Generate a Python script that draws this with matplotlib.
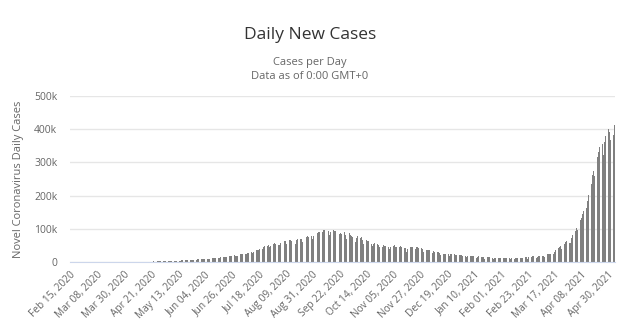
import matplotlib

matplotlib.use("Agg")
import matplotlib.pyplot as plt
import pandas as pd
from matplotlib.ticker import FuncFormatter

plt.rcParams["font.family"] = ["Open Sans", "DejaVu Sans"]

START_DATE = "2020-02-15"

# daily new cases, in thousands, one list per month
feb_2020 = [0.0] * 15
mar_2020 = [0.0, 0.0, 0.0, 0.02, 0.0, 0.0, 0.0, 0.01, 0.01, 0.02, 0.02, 0.01, 0.02, 0.02, 0.02,
            0.02, 0.03, 0.03, 0.03, 0.05, 0.08, 0.07, 0.1, 0.07, 0.09, 0.09, 0.16, 0.13, 0.12, 0.19, 0.3]
apr_2020 = [0.4, 0.5, 0.6, 0.6, 0.6, 0.6, 0.5, 0.6, 0.6, 0.8, 0.9, 0.9, 0.8, 1.0, 1.2,
            1.0, 1.0, 1.4, 1.4, 1.3, 1.5, 1.3, 1.7, 1.4, 1.8, 1.6, 1.6, 1.9, 1.7, 1.8]
may_2020 = [2.4, 2.5, 2.6, 3.0, 3.9, 2.7, 3.4, 3.3, 3.3, 4.2, 3.6, 3.5, 3.7, 3.9, 4.0,
            4.9, 5.1, 4.6, 6.1, 5.6, 6.1, 6.7, 6.8, 6.6, 6.5, 6.6, 7.2, 7.5, 8.0, 7.8, 8.4]
jun_2020 = [8.2, 8.9, 9.6, 9.8, 9.8, 10.4, 9.9, 9.9, 10.0, 11.2, 11.1, 11.4, 12.0, 11.5, 10.7,
            13.1, 13.8, 13.6, 14.7, 15.9, 15.4, 14.8, 16.1, 16.9, 17.3, 18.8, 19.1, 19.9, 18.3, 18.6]
jul_2020 = [19.0, 19.5, 22.7, 24.0, 24.2, 22.8, 22.7, 25.6, 26.5, 27.8, 27.8, 29.1, 28.2, 29.4, 32.6,
            35.5, 34.8, 37.4, 40.2, 37.1, 38.9, 45.6, 49.3, 49.0, 48.9, 49.9, 46.5, 48.5, 51.6, 55.1, 57.7]
aug_2020 = [55.1, 53.6, 52.0, 52.5, 57.0, 56.3, 62.5, 64.4, 62.0, 53.6, 61.3, 66.9, 65.0, 64.6, 64.0,
            58.1, 55.1, 65.0, 69.7, 68.5, 69.9, 69.9, 61.4, 59.7, 66.9, 75.8, 77.3, 76.5, 78.5, 79.0, 69.9]
sep_2020 = [78.4, 83.9, 83.3, 87.1, 90.6, 90.8, 75.8, 89.7, 95.7, 96.6, 97.6, 94.4, 93.2, 81.9, 90.1,
            97.9, 96.4, 93.3, 92.6, 87.4, 75.1, 83.3, 86.5, 85.9, 86.1, 89.0, 82.8, 69.7, 80.5, 86.8]
oct_2020 = [81.5, 79.5, 75.5, 74.4, 60.9, 72.0, 78.8, 70.6, 73.3, 74.4, 66.6, 55.3, 63.5, 67.7, 63.4,
            62.2, 61.9, 55.7, 46.8, 54.0, 55.8, 54.4, 53.3, 50.1, 45.1, 36.5, 43.9, 49.9, 48.6, 48.3, 46.9]
nov_2020 = [46.3, 38.3, 46.2, 50.2, 47.6, 50.4, 45.7, 45.9, 38.1, 44.3, 47.9, 44.9, 44.9, 41.1, 41.1,
            29.2, 38.6, 45.6, 45.9, 46.2, 46.2, 45.2, 37.9, 44.4, 44.5, 43.1, 41.8, 41.8, 38.8, 31.1]
dec_2020 = [36.6, 35.5, 36.7, 36.6, 36.7, 32.9, 26.6, 32.1, 31.5, 29.4, 30.0, 30.3, 27.1, 22.1, 26.4,
            24.0, 22.9, 25.2, 26.6, 24.3, 19.6, 23.9, 24.7, 23.1, 23.1, 22.3, 20.0, 16.4, 20.5, 21.8, 20.0]
jan_2021 = [19.1, 19.1, 18.2, 16.4, 18.1, 20.3, 18.1, 18.2, 18.6, 18.6, 16.3, 12.6, 15.9, 17.0, 15.6,
            15.1, 14.0, 13.8, 10.1, 13.8, 15.2, 14.5, 14.3, 14.8, 13.2, 9.1, 12.7, 11.7, 18.9, 13.1, 13.1]
feb_2021 = [11.4, 8.6, 11.0, 12.9, 12.4, 11.7, 11.8, 11.8, 9.1, 11.1, 12.9, 9.3, 12.2, 11.9, 11.6,
            9.1, 11.6, 12.9, 13.2, 13.9, 14.3, 14.2, 10.6, 13.7, 16.7, 16.6, 16.8, 16.8]
mar_2021 = [15.5, 12.3, 14.9, 17.4, 16.8, 18.3, 18.6, 18.7, 15.4, 17.9, 22.9, 23.3, 24.9, 25.3, 26.3,
            24.5, 28.9, 35.9, 39.7, 40.9, 43.8, 46.9, 40.7, 47.3, 53.5, 59.1, 62.3, 68.0, 56.2, 56.2, 72.3]
apr_2021 = [81.4, 89.1, 93.2, 103.6, 96.6, 115.3, 126.8, 131.9, 144.8, 152.9, 168.9, 161.7, 185.3, 200.7, 217.4,
            234.7, 261.5, 273.8, 259.2, 294.3, 315.8, 332.5, 346.8, 349.3, 354.5, 323.1, 360.9, 379.3, 386.8, 402.0]
may_2021 = [392.6, 368.1, 355.8, 382.3, 412.6]

months = [feb_2020, mar_2020, apr_2020, may_2020, jun_2020, jul_2020, aug_2020, sep_2020, oct_2020,
          nov_2020, dec_2020, jan_2021, feb_2021, mar_2021, apr_2021, may_2021]
cases = [v * 1000 for m in months for v in m]
dates = pd.date_range(START_DATE, periods=len(cases), freq="D")

Y_TICKS = [0, 100000, 200000, 300000, 400000, 500000]
LABEL_STEP = 22

fig = plt.figure(figsize=(6.4, 3.3), dpi=100)
ax = fig.add_axes([0.109, 0.206, 0.852, 0.503])

x = range(len(cases))
ax.bar(x, cases, width=0.62, color="#808080", linewidth=0)

ax.set_xlim(-0.5, len(cases) - 0.5)
ax.set_ylim(0, 500000)
ax.set_yticks(Y_TICKS)
ax.yaxis.set_major_formatter(FuncFormatter(lambda v, _: "0" if v == 0 else f"{v / 1000:.0f}k"))
ax.grid(axis="y", color="#e6e6e6", linewidth=1)
ax.set_axisbelow(True)

tick_idx = list(range(0, len(cases), LABEL_STEP))
ax.set_xticks(tick_idx)
ax.set_xticklabels([dates[i].strftime("%b %d, %Y") for i in tick_idx],
                   rotation=45, ha="right", rotation_mode="anchor")
ax.tick_params(axis="x", length=0, labelsize=7.3, labelcolor="#666666", pad=5)
ax.tick_params(axis="y", length=0, labelsize=7.5, labelcolor="#666666", pad=9)

for side in ["top", "right", "left"]:
    ax.spines[side].set_visible(False)
ax.spines["bottom"].set_color("#ccd6eb")

ax.set_ylabel("Novel Coronavirus Daily Cases", color="#666666", fontsize=8, labelpad=7)

fig.text(0.484, 0.893, "Daily New Cases", ha="center", va="center", fontsize=12.5, color="#333333")
fig.text(0.484, 0.812, "Cases per Day", ha="center", va="center", fontsize=8, color="#666666")
fig.text(0.484, 0.768, "Data as of 0:00 GMT+0", ha="center", va="center", fontsize=8, color="#666666")

fig.savefig("out.png", dpi=100)
